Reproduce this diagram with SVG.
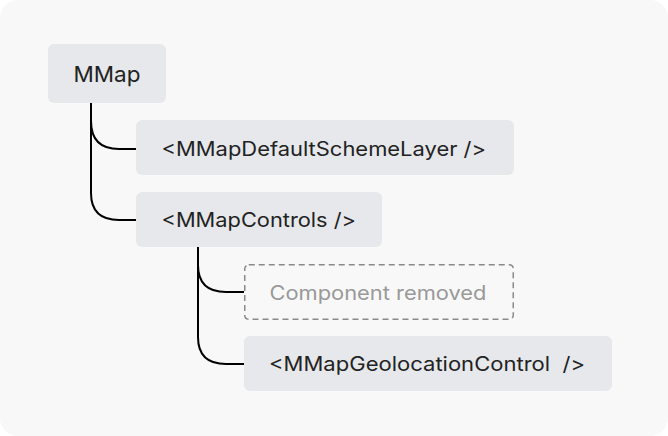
<svg xmlns="http://www.w3.org/2000/svg" width="668" height="436" viewBox="0 0 668 436">
<style>
.bg{fill:#f8f8f8}
.node{fill:#e6e8eb}
.removed{fill:none;stroke:#8a8a8a;stroke-width:1.5;stroke-dasharray:6 4}
.t{font-family:Inter,"Liberation Sans",sans-serif;font-size:19.5px;fill:#222}
.big{font-size:22px}
.g{fill:#999}
.c{fill:none;stroke:#000;stroke-width:2}
</style>
<rect class="bg" x="0" y="0" width="668" height="436" rx="18"/>
<g id="connectors">
<path class="c" d="M91 103 V121 Q91 149 119 149 H136"/>
<path class="c" d="M91 103 V193 Q91 220 119 220 H136"/>
<path class="c" d="M198 247 V265 Q198 292 226 292 H244"/>
<path class="c" d="M198 247 V337 Q198 364 226 364 H244"/>
</g>
<g id="mmap">
<rect class="node" x="48" y="44" width="118" height="59" rx="6"/>
<text class="t big" x="73.5" y="82" textLength="67" lengthAdjust="spacingAndGlyphs">MMap</text>
</g>
<g id="defaultSchemeLayer">
<rect class="node" x="136" y="120" width="378" height="55" rx="6"/>
<text class="t" x="161.5" y="156" textLength="324.5" lengthAdjust="spacingAndGlyphs">&lt;MMapDefaultSchemeLayer /&gt;</text>
</g>
<g id="controls">
<rect class="node" x="136" y="192" width="246" height="55" rx="6"/>
<text class="t" x="161.5" y="227" textLength="194.5" lengthAdjust="spacingAndGlyphs">&lt;MMapControls /&gt;</text>
</g>
<g id="removed">
<rect class="removed" x="244.75" y="264.75" width="268.5" height="54.5" rx="4"/>
<text class="t g" x="269.5" y="299.5" textLength="217" lengthAdjust="spacingAndGlyphs">Component removed</text>
</g>
<g id="geolocation">
<rect class="node" x="244" y="336" width="368" height="55" rx="6"/>
<text class="t" x="269" y="371" textLength="316" lengthAdjust="spacingAndGlyphs" xml:space="preserve">&lt;MMapGeolocationControl  /&gt;</text>
</g>
</svg>
